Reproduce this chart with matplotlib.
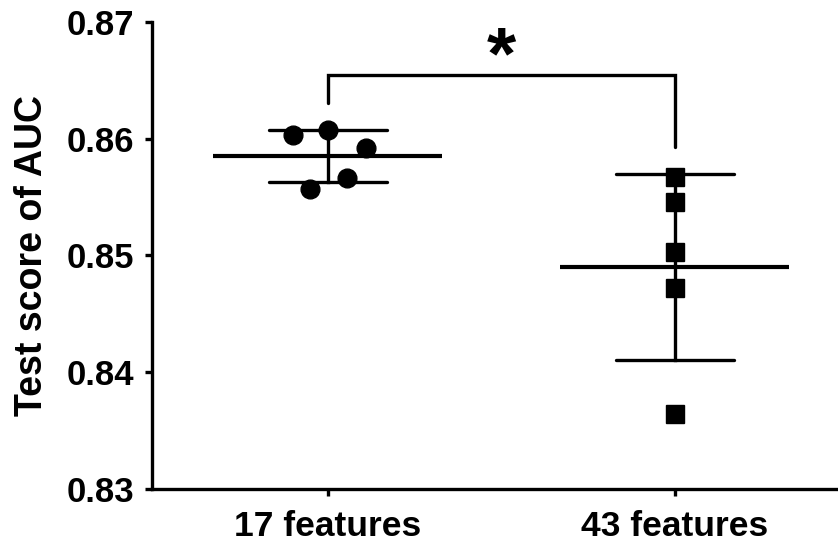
import numpy as np
import matplotlib
matplotlib.use("Agg")
from matplotlib import pyplot as plt

# values
groups = ["17 features", "43 features"]
auc_17 = [0.8603, 0.8607, 0.8592, 0.8566, 0.8557]
auc_43 = [0.8567, 0.8546, 0.8503, 0.8472, 0.8364]
y_ticks = [0.83, 0.84, 0.85, 0.86, 0.87]
sig_label = "*"

# layout only
jitter_17 = [-0.10, 0.0, 0.11, 0.055, -0.05]
jitter_43 = [0.0, 0.0, 0.0, 0.0, 0.0]

plt.rcParams["font.family"] = ["Liberation Sans", "DejaVu Sans"]
plt.rcParams["font.weight"] = "bold"

fig = plt.figure(figsize=(8.38, 5.47), dpi=100)
ax = fig.add_axes([0.1814, 0.106, 0.8186, 0.854])

lw = 2.4
for i, (vals, jit, mk) in enumerate([(auc_17, jitter_17, "o"), (auc_43, jitter_43, "s")]):
    vals = np.array(vals)
    m = vals.mean()
    sd = vals.std(ddof=1)
    # mean line
    ax.plot([i - 0.33, i + 0.33], [m, m], color="black", lw=3.0, solid_capstyle="butt", zorder=2)
    # sd bar and caps
    ax.plot([i, i], [m - sd, m + sd], color="black", lw=lw, zorder=2)
    for y in (m - sd, m + sd):
        ax.plot([i - 0.17, i + 0.17], [y, y], color="black", lw=lw, solid_capstyle="round", zorder=2)
    ax.plot(i + np.array(jit), vals, mk, color="black", markersize=13.5, zorder=3)

# significance bracket
top = 0.86545
ax.plot([0, 0, 1, 1], [0.86305, top, top, 0.85928], color="black", lw=lw,
        solid_capstyle="round", solid_joinstyle="miter")
ax.text(0.5, 0.8652, sig_label, ha="center", va="baseline", fontsize=54, fontweight="bold")

ax.set_xlim(-0.506, 1.47)
ax.set_ylim(0.83, 0.87)
ax.set_xticks([0, 1])
ax.set_xticklabels(groups)
ax.set_yticks(y_ticks)
ax.set_yticklabels([f"{t:.2f}" for t in y_ticks])
ax.set_ylabel("Test score of AUC", fontsize=27, fontweight="bold", labelpad=12)

for s in ["top", "right"]:
    ax.spines[s].set_visible(False)
for s in ["left", "bottom"]:
    ax.spines[s].set_linewidth(2.4)
ax.tick_params(axis="both", width=2.4, length=5, direction="out")
ax.tick_params(axis="y", labelsize=25, pad=8)
ax.tick_params(axis="x", labelsize=25.5, pad=10)
for lab in ax.get_xticklabels() + ax.get_yticklabels():
    lab.set_fontweight("bold")

fig.savefig("out.png", dpi=100)
